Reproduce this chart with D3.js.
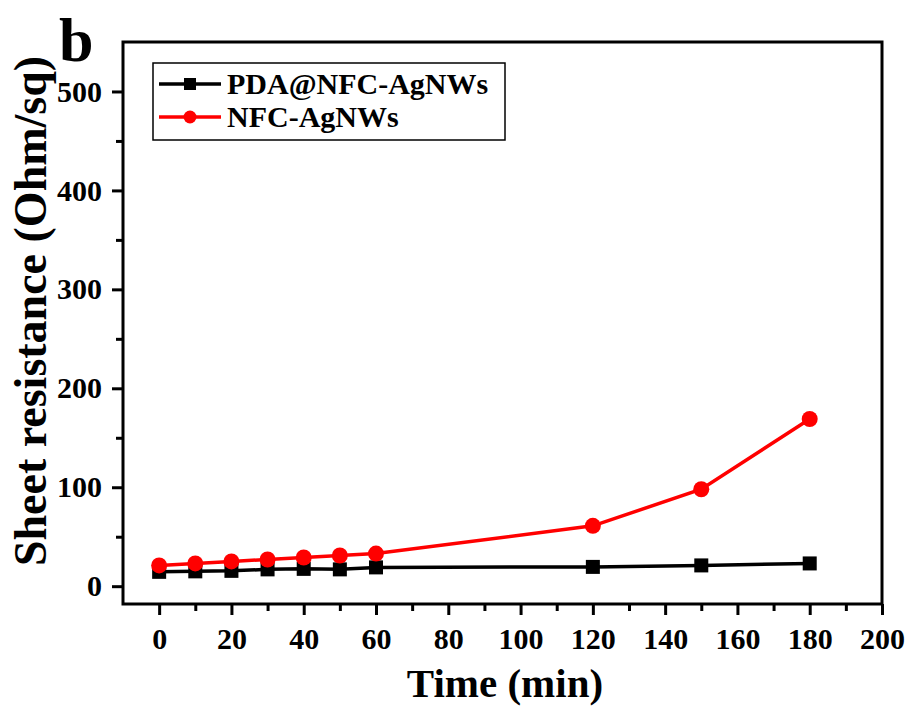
<!DOCTYPE html>
<html>
<head>
<meta charset="utf-8">
<title>Sheet resistance</title>
<script src="https://d3js.org/d3.v7.min.js"></script>
<style>
  body { margin: 0; background: #fff; }
  text { font-family: "Liberation Serif", "Times New Roman", serif; font-weight: bold; }
</style>
</head>
<body>
<svg id="chart" width="909" height="709"></svg>
<script>
// data
var times = [0, 10, 20, 30, 40, 50, 60, 120, 150, 180];
var pdaNfc = [14.5, 15, 15.5, 17, 17.5, 17, 19, 19.5, 21, 23];
var nfcOnly = [21, 23, 25, 27, 29, 31, 33, 61, 98, 169];
var seriesNames = ["PDA@NFC-AgNWs", "NFC-AgNWs"];
var xTicks = [0, 20, 40, 60, 80, 100, 120, 140, 160, 180, 200];
var xMinor = [10, 30, 50, 70, 90, 110, 130, 150, 170, 190];
var yTicks = [0, 100, 200, 300, 400, 500];
var yMinor = [50, 150, 250, 350, 450];

var plotL = 123, plotR = 882, plotT = 42, plotB = 604;

var svg = d3.select("#chart");

var x = d3.scaleLinear().domain([-10, 200]).range([plotL, plotR]);
var y = d3.scaleLinear().domain([-18, 550]).range([plotB, plotT]);

// frame
svg.append("rect")
  .attr("x", plotL).attr("y", plotT)
  .attr("width", plotR - plotL).attr("height", plotB - plotT)
  .attr("fill", "none").attr("stroke", "#000").attr("stroke-width", 3);

// x axis
var gx = svg.append("g").attr("transform", "translate(0," + plotB + ")");
gx.call(d3.axisBottom(x).tickValues(xTicks).tickSize(11).tickPadding(13).tickFormat(d3.format("d")));
gx.append("g").call(d3.axisBottom(x).tickValues(xMinor).tickSize(7).tickFormat(""));
gx.selectAll(".domain").remove();
gx.selectAll(".tick line").attr("stroke", "#000").attr("stroke-width", 3);
gx.selectAll(".tick text").attr("font-size", 30).attr("fill", "#000")
  .style("font-family", "'Liberation Serif', 'Times New Roman', serif").style("font-weight", "bold");

// y axis
var gy = svg.append("g").attr("transform", "translate(" + plotL + ",0)");
gy.call(d3.axisLeft(y).tickValues(yTicks).tickSize(11).tickPadding(10).tickFormat(d3.format("d")));
gy.append("g").call(d3.axisLeft(y).tickValues(yMinor).tickSize(7).tickFormat(""));
gy.selectAll(".domain").remove();
gy.selectAll(".tick line").attr("stroke", "#000").attr("stroke-width", 3);
gy.selectAll(".tick text").attr("font-size", 30).attr("fill", "#000")
  .style("font-family", "'Liberation Serif', 'Times New Roman', serif").style("font-weight", "bold");

// axis titles
svg.append("text")
  .attr("x", 505).attr("y", 697)
  .attr("text-anchor", "middle").attr("font-size", 41)
  .text("Time (min)");

svg.append("text")
  .attr("transform", "translate(46,311) rotate(-90)")
  .attr("text-anchor", "middle").attr("font-size", 46)
  .text("Sheet resistance (Ohm/sq)");

svg.append("text")
  .attr("x", 59).attr("y", 61)
  .attr("font-size", 62)
  .text("b");

// series
var line = d3.line().x(function(d) { return x(d[0]); }).y(function(d) { return y(d[1]); });
var blackData = times.map(function(t, i) { return [t, pdaNfc[i]]; });
var redData = times.map(function(t, i) { return [t, nfcOnly[i]]; });

svg.append("path").datum(blackData)
  .attr("d", line).attr("fill", "none").attr("stroke", "#000").attr("stroke-width", 3.5);
svg.selectAll("rect.pt").data(blackData).enter().append("rect")
  .attr("class", "pt")
  .attr("x", function(d) { return x(d[0]) - 7; })
  .attr("y", function(d) { return y(d[1]) - 7; })
  .attr("width", 14).attr("height", 14).attr("fill", "#000");

svg.append("path").datum(redData)
  .attr("d", line).attr("fill", "none").attr("stroke", "#f00").attr("stroke-width", 3.5);
svg.selectAll("circle.pt").data(redData).enter().append("circle")
  .attr("class", "pt")
  .attr("cx", function(d) { return x(d[0]); })
  .attr("cy", function(d) { return y(d[1]); })
  .attr("r", 8).attr("fill", "#f00");

// legend
var lg = svg.append("g");
lg.append("rect")
  .attr("x", 153).attr("y", 63).attr("width", 352).attr("height", 77)
  .attr("fill", "#fff").attr("stroke", "#000").attr("stroke-width", 1.5);
var rows = [{ name: seriesNames[0], color: "#000", shape: "square", cy: 84 },
            { name: seriesNames[1], color: "#f00", shape: "circle", cy: 117 }];
rows.forEach(function(r) {
  lg.append("line").attr("x1", 159).attr("x2", 221).attr("y1", r.cy).attr("y2", r.cy)
    .attr("stroke", r.color).attr("stroke-width", 3.5);
  if (r.shape === "square") {
    lg.append("rect").attr("x", 184).attr("y", r.cy - 6).attr("width", 12).attr("height", 12).attr("fill", r.color);
  } else {
    lg.append("circle").attr("cx", 190).attr("cy", r.cy).attr("r", 6.5).attr("fill", r.color);
  }
  lg.append("text").attr("x", 227).attr("y", r.cy + 10).attr("font-size", 30).attr("fill", "#000").text(r.name);
});
</script>
</body>
</html>
